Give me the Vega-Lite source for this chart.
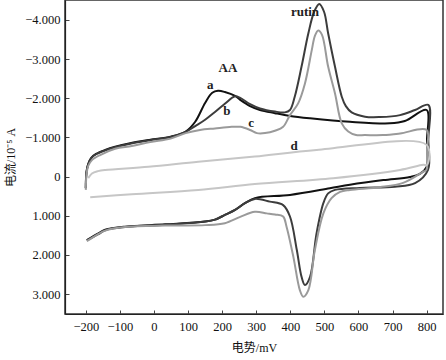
{
  "$schema": "https://vega.github.io/schema/vega-lite/v6.json",
  "width": 378,
  "height": 314,
  "autosize": {"type": "none"},
  "padding": {"left": 65, "top": 0, "right": 3, "bottom": 46},
  "background": "white",
  "config": {
    "view": {"stroke": "#333333", "strokeWidth": 1.5},
    "axis": {
      "grid": false,
      "domainColor": "#222222",
      "domainWidth": 1.2,
      "tickColor": "#444444",
      "tickSize": -4,
      "labelFont": "Liberation Serif",
      "labelFontSize": 12.5,
      "labelColor": "#111111",
      "titleFont": "Liberation Serif, Noto Sans CJK SC",
      "titleFontSize": 12,
      "titleFontWeight": "normal",
      "titleColor": "#111111"
    }
  },
  "datasets": {
    "curves": [
      {"s":"a","i":1,"x":-200,"y":0.29},{"s":"a","i":2,"x":-198,"y":-0.12},{"s":"a","i":3,"x":-193,"y":-0.32},{"s":"a","i":4,"x":-184,"y":-0.48},{"s":"a","i":5,"x":-170,"y":-0.58},{"s":"a","i":6,"x":-143,"y":-0.68},{"s":"a","i":7,"x":-114,"y":-0.76},{"s":"a","i":8,"x":-70,"y":-0.85},{"s":"a","i":9,"x":-11,"y":-0.94},{"s":"a","i":10,"x":49,"y":-1.02},{"s":"a","i":11,"x":93,"y":-1.15},{"s":"a","i":12,"x":121,"y":-1.4},{"s":"a","i":13,"x":150,"y":-1.88},{"s":"a","i":14,"x":171,"y":-2.14},{"s":"a","i":15,"x":188,"y":-2.19},{"s":"a","i":16,"x":208,"y":-2.16},{"s":"a","i":17,"x":238,"y":-2.06},{"s":"a","i":18,"x":253,"y":-1.96},{"s":"a","i":19,"x":282,"y":-1.8},{"s":"a","i":20,"x":311,"y":-1.7},{"s":"a","i":21,"x":355,"y":-1.62},{"s":"a","i":22,"x":399,"y":-1.55},{"s":"a","i":23,"x":458,"y":-1.49},{"s":"a","i":24,"x":575,"y":-1.4},{"s":"a","i":25,"x":692,"y":-1.36},{"s":"a","i":26,"x":736,"y":-1.42},{"s":"a","i":27,"x":800,"y":-1.7},{"s":"a","i":28,"x":801,"y":-0.94},{"s":"a","i":29,"x":800,"y":-0.25},{"s":"a","i":30,"x":780,"y":-0.07},{"s":"a","i":31,"x":751,"y":0.01},{"s":"a","i":32,"x":673,"y":0.09},{"s":"a","i":33,"x":575,"y":0.21},{"s":"a","i":34,"x":516,"y":0.3},{"s":"a","i":35,"x":399,"y":0.47},{"s":"a","i":36,"x":296,"y":0.55},{"s":"a","i":37,"x":267,"y":0.68},{"s":"a","i":38,"x":238,"y":0.85},{"s":"a","i":39,"x":208,"y":0.98},{"s":"a","i":40,"x":179,"y":1.1},{"s":"a","i":41,"x":150,"y":1.15},{"s":"a","i":42,"x":33,"y":1.22},{"s":"a","i":43,"x":-85,"y":1.28},{"s":"a","i":44,"x":-143,"y":1.36},{"s":"a","i":45,"x":-163,"y":1.45},{"s":"a","i":46,"x":-197,"y":1.62},
      {"s":"b","i":1,"x":-200,"y":0.3},{"s":"b","i":2,"x":-198,"y":-0.1},{"s":"b","i":3,"x":-193,"y":-0.31},{"s":"b","i":4,"x":-184,"y":-0.47},{"s":"b","i":5,"x":-170,"y":-0.57},{"s":"b","i":6,"x":-143,"y":-0.67},{"s":"b","i":7,"x":-114,"y":-0.75},{"s":"b","i":8,"x":-70,"y":-0.84},{"s":"b","i":9,"x":-11,"y":-0.93},{"s":"b","i":10,"x":49,"y":-1.01},{"s":"b","i":11,"x":93,"y":-1.14},{"s":"b","i":12,"x":121,"y":-1.29},{"s":"b","i":13,"x":150,"y":-1.45},{"s":"b","i":14,"x":179,"y":-1.65},{"s":"b","i":15,"x":208,"y":-1.86},{"s":"b","i":16,"x":238,"y":-2.05},{"s":"b","i":17,"x":253,"y":-2.01},{"s":"b","i":18,"x":282,"y":-1.85},{"s":"b","i":19,"x":311,"y":-1.74},{"s":"b","i":20,"x":355,"y":-1.66},{"s":"b","i":21,"x":384,"y":-1.64},{"s":"b","i":22,"x":399,"y":-1.7},{"s":"b","i":23,"x":413,"y":-2.04},{"s":"b","i":24,"x":433,"y":-2.81},{"s":"b","i":25,"x":453,"y":-3.66},{"s":"b","i":26,"x":470,"y":-4.21},{"s":"b","i":27,"x":485,"y":-4.41},{"s":"b","i":28,"x":499,"y":-4.21},{"s":"b","i":29,"x":511,"y":-3.66},{"s":"b","i":30,"x":531,"y":-2.81},{"s":"b","i":31,"x":551,"y":-2.04},{"s":"b","i":32,"x":563,"y":-1.8},{"s":"b","i":33,"x":580,"y":-1.64},{"s":"b","i":34,"x":619,"y":-1.53},{"s":"b","i":35,"x":663,"y":-1.52},{"s":"b","i":36,"x":722,"y":-1.57},{"s":"b","i":37,"x":766,"y":-1.7},{"s":"b","i":38,"x":805,"y":-1.83},{"s":"b","i":39,"x":805,"y":-0.94},{"s":"b","i":40,"x":804,"y":-0.17},{"s":"b","i":41,"x":766,"y":0.17},{"s":"b","i":42,"x":707,"y":0.26},{"s":"b","i":43,"x":604,"y":0.29},{"s":"b","i":44,"x":531,"y":0.34},{"s":"b","i":45,"x":511,"y":0.43},{"s":"b","i":46,"x":497,"y":0.68},{"s":"b","i":47,"x":477,"y":1.45},{"s":"b","i":48,"x":458,"y":2.56},{"s":"b","i":49,"x":443,"y":2.77},{"s":"b","i":50,"x":433,"y":2.56},{"s":"b","i":51,"x":419,"y":1.87},{"s":"b","i":52,"x":399,"y":1.02},{"s":"b","i":53,"x":379,"y":0.73},{"s":"b","i":54,"x":340,"y":0.64},{"s":"b","i":55,"x":296,"y":0.57},{"s":"b","i":56,"x":267,"y":0.68},{"s":"b","i":57,"x":238,"y":0.85},{"s":"b","i":58,"x":208,"y":0.98},{"s":"b","i":59,"x":179,"y":1.1},{"s":"b","i":60,"x":150,"y":1.15},{"s":"b","i":61,"x":33,"y":1.23},{"s":"b","i":62,"x":-85,"y":1.29},{"s":"b","i":63,"x":-143,"y":1.37},{"s":"b","i":64,"x":-163,"y":1.47},{"s":"b","i":65,"x":-197,"y":1.63},
      {"s":"c","i":1,"x":-200,"y":0.34},{"s":"c","i":2,"x":-198,"y":-0.04},{"s":"c","i":3,"x":-193,"y":-0.27},{"s":"c","i":4,"x":-182,"y":-0.42},{"s":"c","i":5,"x":-158,"y":-0.55},{"s":"c","i":6,"x":-114,"y":-0.71},{"s":"c","i":7,"x":-65,"y":-0.78},{"s":"c","i":8,"x":-11,"y":-0.88},{"s":"c","i":9,"x":49,"y":-0.97},{"s":"c","i":10,"x":93,"y":-1.11},{"s":"c","i":11,"x":135,"y":-1.19},{"s":"c","i":12,"x":179,"y":-1.23},{"s":"c","i":13,"x":228,"y":-1.27},{"s":"c","i":14,"x":253,"y":-1.27},{"s":"c","i":15,"x":282,"y":-1.19},{"s":"c","i":16,"x":302,"y":-1.11},{"s":"c","i":17,"x":326,"y":-1.11},{"s":"c","i":18,"x":355,"y":-1.17},{"s":"c","i":19,"x":379,"y":-1.27},{"s":"c","i":20,"x":399,"y":-1.57},{"s":"c","i":21,"x":423,"y":-1.87},{"s":"c","i":22,"x":443,"y":-2.38},{"s":"c","i":23,"x":463,"y":-3.23},{"s":"c","i":24,"x":472,"y":-3.59},{"s":"c","i":25,"x":482,"y":-3.73},{"s":"c","i":26,"x":493,"y":-3.62},{"s":"c","i":27,"x":511,"y":-2.81},{"s":"c","i":28,"x":531,"y":-2.13},{"s":"c","i":29,"x":551,"y":-1.36},{"s":"c","i":30,"x":570,"y":-1.15},{"s":"c","i":31,"x":593,"y":-1.06},{"s":"c","i":32,"x":619,"y":-1.06},{"s":"c","i":33,"x":672,"y":-1.06},{"s":"c","i":34,"x":722,"y":-1.1},{"s":"c","i":35,"x":800,"y":-1.19},{"s":"c","i":36,"x":801,"y":-0.68},{"s":"c","i":37,"x":799,"y":-0.17},{"s":"c","i":38,"x":789,"y":-0.12},{"s":"c","i":39,"x":731,"y":0.16},{"s":"c","i":40,"x":663,"y":0.27},{"s":"c","i":41,"x":575,"y":0.34},{"s":"c","i":42,"x":546,"y":0.39},{"s":"c","i":43,"x":521,"y":0.55},{"s":"c","i":44,"x":497,"y":0.94},{"s":"c","i":45,"x":472,"y":1.88},{"s":"c","i":46,"x":453,"y":2.9},{"s":"c","i":47,"x":438,"y":3.07},{"s":"c","i":48,"x":428,"y":2.9},{"s":"c","i":49,"x":409,"y":2.05},{"s":"c","i":50,"x":389,"y":1.28},{"s":"c","i":51,"x":379,"y":1.02},{"s":"c","i":52,"x":355,"y":0.97},{"s":"c","i":53,"x":331,"y":0.94},{"s":"c","i":54,"x":296,"y":0.9},{"s":"c","i":55,"x":253,"y":1.03},{"s":"c","i":56,"x":208,"y":1.19},{"s":"c","i":57,"x":150,"y":1.24},{"s":"c","i":58,"x":33,"y":1.25},{"s":"c","i":59,"x":-85,"y":1.29},{"s":"c","i":60,"x":-143,"y":1.38},{"s":"c","i":61,"x":-164,"y":1.47},{"s":"c","i":62,"x":-197,"y":1.65},
      {"s":"d","i":1,"x":-193,"y":0.04},{"s":"d","i":2,"x":-182,"y":-0.08},{"s":"d","i":3,"x":-164,"y":-0.14},{"s":"d","i":4,"x":-143,"y":-0.17},{"s":"d","i":5,"x":-16,"y":-0.25},{"s":"d","i":6,"x":130,"y":-0.38},{"s":"d","i":7,"x":296,"y":-0.51},{"s":"d","i":8,"x":477,"y":-0.68},{"s":"d","i":9,"x":800,"y":-0.81},{"s":"d","i":10,"x":801,"y":-0.3},{"s":"d","i":11,"x":790,"y":-0.3},{"s":"d","i":12,"x":722,"y":-0.17},{"s":"d","i":13,"x":526,"y":0.04},{"s":"d","i":14,"x":296,"y":0.19},{"s":"d","i":15,"x":130,"y":0.34},{"s":"d","i":16,"x":-65,"y":0.45},{"s":"d","i":17,"x":-187,"y":0.53}
    ],
    "labels": [
      {"t":"AA","x":217,"y":-2.78},
      {"t":"a","x":165,"y":-2.34},
      {"t":"b","x":214,"y":-1.68},
      {"t":"c","x":285,"y":-1.37},
      {"t":"d","x":411,"y":-0.78},
      {"t":"rutin","x":443,"y":-4.21}
    ]
  },
  "encoding": {
    "x": {
      "field": "x", "type": "quantitative",
      "scale": {"domain": [-261, 848], "nice": false, "zero": false},
      "axis": {"values": [-200,-100,0,100,200,300,400,500,600,700,800], "format": "d", "labelOverlap": false, "labelFlush": false, "labelBound": false, "labelFontSize": 12.5, "title": "电势/mV", "labelPadding": 10, "titlePadding": 10}
    },
    "y": {
      "field": "y", "type": "quantitative",
      "scale": {"domain": [-4.51, 3.51], "nice": false, "zero": false, "reverse": true},
      "axis": {"values": [-4,-3,-2,-1,0,1,2,3], "labelExpr": "datum.value == 0 ? '0' : format(datum.value, '.3f')", "labelOverlap": false, "labelFlush": false, "title": "电流/10⁻⁵ A", "labelPadding": 9, "titlePadding": 7}
    }
  },
  "layer": [
    {
      "data": {"name": "curves"},
      "mark": {"type": "line", "interpolate": "catmull-rom", "strokeJoin": "round", "clip": true},
      "encoding": {
        "color": {"field": "s", "type": "nominal", "scale": {"domain": ["a","b","c","d"], "range": ["#111111","#3c3c3c","#9a9a9a","#c6c6c6"]}, "legend": null},
        "strokeWidth": {"field": "s", "type": "nominal", "scale": {"domain": ["a","b","c","d"], "range": [2, 2, 1.6, 1.4]}, "legend": null},
        "order": {"field": "i", "type": "quantitative"}
      }
    },
    {
      "data": {"name": "labels"},
      "mark": {"type": "text", "font": "Liberation Serif", "fontSize": 13, "fontWeight": "bold", "color": "#222222", "align": "center", "baseline": "middle"},
      "encoding": {
        "text": {"field": "t"}
      }
    }
  ]
}
